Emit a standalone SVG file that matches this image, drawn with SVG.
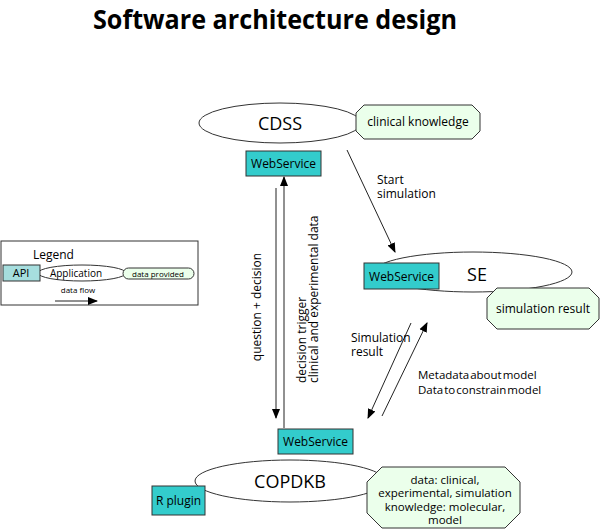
<svg xmlns="http://www.w3.org/2000/svg" width="600" height="529" viewBox="0 0 600 529">
<defs>
<marker id="ah" markerWidth="10" markerHeight="10" refX="9" refY="5" orient="auto" markerUnits="userSpaceOnUse">
<path d="M0,1 L10,5 L0,9 Z" fill="#000"/>
</marker>
<style>
text{font-family:"Open Sans","Noto Sans","DejaVu Sans",sans-serif;fill:#000}
.ell{fill:#fff;stroke:#333;stroke-width:1}
.ws{fill:#33cccc;stroke:#333;stroke-width:1}
.oct{fill:#ebffeb;stroke:#333;stroke-width:1}
.big{font-size:18px;text-anchor:middle}
.sm{font-size:12px}
.xs{font-size:11.5px}
.mid{text-anchor:middle}
.con{stroke:#222;stroke-width:1;fill:none;marker-end:url(#ah)}
</style>
</defs>
<rect width="600" height="529" fill="#fff"/>
<text x="93" y="29" font-size="27" font-weight="bold" textLength="364" lengthAdjust="spacingAndGlyphs">Software architecture design</text>

<g id="legend">
<rect x="1" y="241" width="197" height="64" fill="#fff" stroke="#333"/>
<text x="33" y="259" font-size="12">Legend</text>
<ellipse cx="82" cy="273" rx="44" ry="8" class="ell"/>
<text x="76" y="277" font-size="10" text-anchor="middle">Application</text>
<rect x="3" y="265" width="37" height="16" fill="#a6dede" stroke="#333"/>
<text x="21" y="277" font-size="11" text-anchor="middle">API</text>
<rect x="123" y="268" width="71" height="11" rx="5.5" fill="#ebffeb" stroke="#333"/>
<text x="158" y="277" font-size="8" text-anchor="middle">data provided</text>
<text x="78" y="293" font-size="8" text-anchor="middle">data flow</text>
<line x1="55" y1="301" x2="97" y2="301" class="con"/>
</g>

<g id="connectors">
<line x1="347" y1="150" x2="395" y2="252" class="con"/>
<line x1="276" y1="188" x2="276" y2="418" class="con"/>
<line x1="284" y1="428" x2="284" y2="177" class="con"/>
<line x1="411" y1="323" x2="368" y2="418" class="con"/>
<line x1="382" y1="416" x2="427" y2="323" class="con"/>
<text x="377" y="184" class="sm">Start</text>
<text x="377" y="198" class="sm">simulation</text>
<text transform="translate(261,307) rotate(-90)" class="sm mid">question + decision</text>
<text transform="translate(306,383) rotate(-90)" class="sm">decision trigger</text>
<text transform="translate(318,383) rotate(-90)" class="sm">clinical and experimental data</text>
<text x="351" y="342" class="sm">Simulation</text>
<text x="351" y="356" class="sm">result</text>
<text x="418" y="379" class="xs" word-spacing="-2">Metadata about model</text>
<text x="418" y="394" class="xs" word-spacing="-2">Data to constrain model</text>
</g>

<g id="cdss">
<ellipse cx="280" cy="123" rx="81" ry="20" class="ell"/>
<text x="280" y="130" class="big">CDSS</text>
</g>
<g id="clinical-knowledge">
<polygon points="364,105 472,105 480,113 480,131 472,139 364,139 356,131 356,113" class="oct"/>
<text x="418" y="126" class="sm mid">clinical knowledge</text>
</g>
<g id="ws-cdss">
<rect x="246" y="151" width="75" height="25" class="ws"/>
<text x="283.5" y="168" class="sm mid">WebService</text>
</g>

<g id="se">
<ellipse cx="473" cy="272" rx="99" ry="20" class="ell"/>
<text x="477" y="281" class="big">SE</text>
</g>
<g id="ws-se">
<rect x="364" y="263" width="75" height="26" class="ws"/>
<text x="401.5" y="281" class="sm mid">WebService</text>
</g>
<g id="simulation-result">
<polygon points="497,288 589,288 599,298 599,319 589,329 497,329 487,319 487,298" class="oct"/>
<text x="543" y="313" class="sm mid">simulation result</text>
</g>

<g id="ws-copdkb">
<rect x="278" y="429" width="75" height="25" class="ws"/>
<text x="315.5" y="446" class="sm mid">WebService</text>
</g>
<g id="copdkb">
<ellipse cx="290" cy="481" rx="95" ry="21" class="ell"/>
<text x="290" y="488" class="big">COPDKB</text>
</g>
<g id="r-plugin">
<rect x="152" y="486" width="53" height="29" class="ws"/>
<text x="178.5" y="505" class="sm mid">R plugin</text>
</g>
<g id="copdkb-data">
<polygon points="382,467 505,467 520,482 520,513 505,528 382,528 367,513 367,482" class="oct"/>
<text x="445" y="484" class="xs mid">data: clinical,</text>
<text x="445" y="497" class="xs mid">experimental, simulation</text>
<text x="445" y="511" class="xs mid">knowledge: molecular,</text>
<text x="445" y="524" class="xs mid">model</text>
</g>
</svg>
